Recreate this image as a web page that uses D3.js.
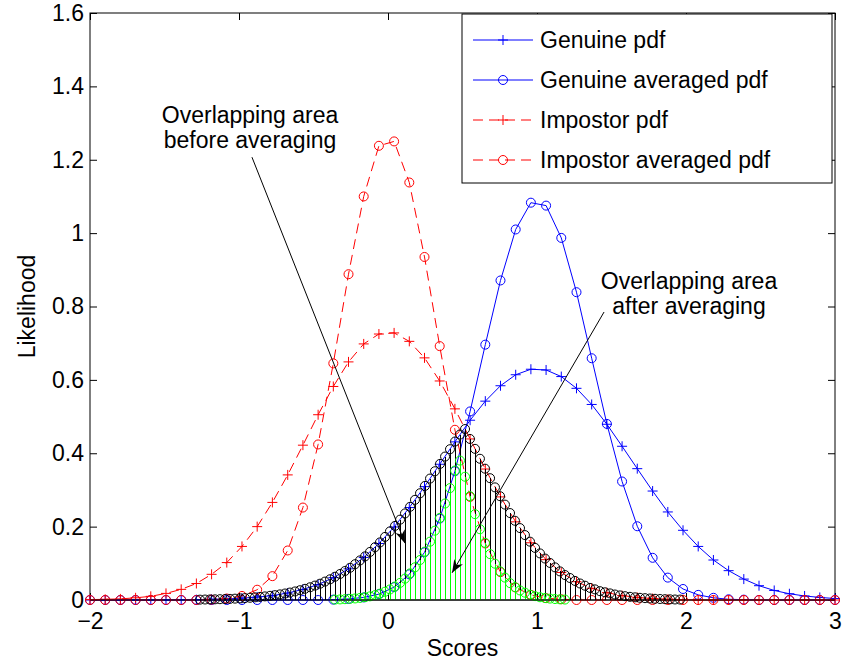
<!DOCTYPE html>
<html>
<head>
	<meta charset="utf-8">
	<script src="https://cdnjs.cloudflare.com/ajax/libs/d3/7.8.5/d3.min.js" charset="utf-8"></script>
	<style>
		body {
		  margin: 0;
		  background: #fff;
		}
		text {
		  font-family: 'Liberation Sans', Arial, Helvetica, sans-serif;
		  font-size: 23px;
		  fill: #000;
		}
	</style>
</head>
<body>
<div id="chart"></div>
<script>

///////////////////////////////////////////////////
///////////////////// Data ////////////////////////
///////////////////////////////////////////////////

//Coarse score grid used by the four pdf curves
var scores = [-2.000,-1.898,-1.796,-1.694,-1.592,-1.490,-1.388,-1.286,-1.184,-1.082,
	-0.980,-0.878,-0.776,-0.673,-0.571,-0.469,-0.367,-0.265,-0.163,-0.061,
	0.041,0.143,0.245,0.347,0.449,0.551,0.653,0.755,0.857,0.959,
	1.061,1.163,1.265,1.367,1.469,1.571,1.673,1.776,1.878,1.980,
	2.082,2.184,2.286,2.388,2.490,2.592,2.694,2.796,2.898,3.000];

var genuinePdf = [0,0,0,0,0,0,0.001,0.001,0.002,0.003,
	0.005,0.008,0.012,0.019,0.029,0.042,0.061,0.085,0.116,0.154,
	0.199,0.252,0.309,0.370,0.431,0.490,0.542,0.584,0.614,0.629,
	0.627,0.609,0.577,0.533,0.479,0.419,0.358,0.297,0.240,0.190,
	0.146,0.109,0.080,0.057,0.039,0.026,0.017,0.011,0.007,0.004];

var genuineAvgPdf = [0,0,0,0,0,0,0,0,0,0,
	0,0,0,0,0,0,0.001,0.003,0.007,0.016,
	0.035,0.070,0.130,0.222,0.351,0.514,0.696,0.871,1.010,1.083,
	1.075,0.987,0.839,0.659,0.480,0.323,0.201,0.115,0.061,0.030,
	0.014,0.006,0.002,0.001,0,0,0,0,0,0];

var impostorPdf = [0.001,0.002,0.003,0.006,0.010,0.018,0.029,0.045,0.070,0.102,
	0.146,0.200,0.266,0.341,0.422,0.505,0.582,0.649,0.698,0.725,
	0.728,0.705,0.660,0.597,0.521,0.439,0.357,0.281,0.213,0.156,
	0.110,0.075,0.050,0.032,0.020,0.012,0.007,0.004,0.002,0.001,
	0,0,0,0,0,0,0,0,0,0];

var impostorAvgPdf = [0,0,0,0,0,0,0,0,0.001,0.004,
	0.011,0.028,0.065,0.135,0.252,0.424,0.645,0.888,1.100,1.238,
	1.250,1.138,0.935,0.692,0.464,0.281,0.154,0.076,0.034,0.014,
	0.005,0.002,0,0,0,0,0,0,0,0,
	0,0,0,0,0,0,0,0,0,0];

//Fine score grid for the overlap (before averaging) stems
var overlapScores = [-1.262,-1.228,-1.195,-1.161,-1.128,-1.094,-1.060,-1.027,-0.993,-0.960,
	-0.926,-0.893,-0.859,-0.826,-0.792,-0.758,-0.725,-0.691,-0.658,-0.624,
	-0.591,-0.557,-0.523,-0.490,-0.456,-0.423,-0.389,-0.356,-0.322,-0.289,
	-0.255,-0.221,-0.188,-0.154,-0.121,-0.087,-0.054,-0.020,0.013,0.047,
	0.081,0.114,0.148,0.181,0.215,0.248,0.282,0.315,0.349,0.383,
	0.416,0.450,0.483,0.517,0.550,0.584,0.617,0.651,0.685,0.718,
	0.752,0.785,0.819,0.852,0.886,0.919,0.953,0.987,1.020,1.054,
	1.087,1.121,1.154,1.188,1.221,1.255,1.289,1.322,1.356,1.389,
	1.423,1.456,1.490,1.523,1.557,1.591,1.624,1.658,1.691,1.725,
	1.758,1.792,1.826,1.859,1.893,1.926,1.960];

var overlapBefore = [0.001,0.0013,0.0015,0.0018,0.0022,0.0026,0.0031,0.0037,0.0044,0.0052,
	0.0061,0.0072,0.0084,0.0098,0.0114,0.0132,0.0153,0.0177,0.0203,0.0233,
	0.0267,0.0305,0.0347,0.0393,0.0445,0.0502,0.0564,0.0634,0.0709,0.0790,
	0.0878,0.0976,0.108,0.119,0.131,0.144,0.157,0.172,0.187,0.202,
	0.219,0.236,0.254,0.273,0.291,0.311,0.331,0.351,0.371,0.391,
	0.411,0.432,0.451,0.466,0.439,0.412,0.385,0.358,0.332,0.307,
	0.283,0.260,0.237,0.216,0.196,0.177,0.159,0.142,0.127,0.113,
	0.101,0.089,0.078,0.068,0.060,0.052,0.045,0.039,0.033,0.029,
	0.024,0.021,0.018,0.015,0.0125,0.0104,0.0087,0.0073,0.0060,0.0050,
	0.0041,0.0033,0.0027,0.0022,0.0018,0.0014,0.0012];

//Overlap after averaging (green stems)
var overlapAfterScores = [-0.356,-0.322,-0.289,-0.255,-0.221,-0.188,-0.154,-0.121,-0.087,-0.054,
	-0.020,0.013,0.047,0.081,0.114,0.148,0.181,0.215,0.248,0.282,
	0.315,0.349,0.383,0.416,0.450,0.483,0.517,0.550,0.584,0.617,
	0.651,0.685,0.718,0.752,0.785,0.819,0.852,0.886,0.919,0.953,
	0.987,1.020,1.054,1.087,1.121,1.154,1.188];

var overlapAfter = [0.0011,0.0016,0.0022,0.0031,0.0042,0.0056,0.0076,0.0100,0.0133,0.0173,
	0.0225,0.0288,0.0368,0.0466,0.0582,0.0726,0.0892,0.109,0.132,0.159,
	0.189,0.224,0.263,0.305,0.353,0.380,0.336,0.283,0.234,0.193,
	0.156,0.125,0.099,0.078,0.061,0.046,0.035,0.026,0.020,0.0144,
	0.0105,0.0075,0.0053,0.0038,0.0026,0.0018,0.0012];

//Ticks
var xTicks = [-2, -1, 0, 1, 2, 3];
var xTickLabels = ["\u22122", "\u22121", "0", "1", "2", "3"];
var yTicks = [0, 0.2, 0.4, 0.6, 0.8, 1, 1.2, 1.4, 1.6];
var yTickLabels = ["0", "0.2", "0.4", "0.6", "0.8", "1", "1.2", "1.4", "1.6"];

var seriesNames = ["Genuine pdf", "Genuine averaged pdf", "Impostor pdf", "Impostor averaged pdf"];

///////////////////////////////////////////////////
//////////////// Set the Scales ///////////////////
///////////////////////////////////////////////////

var width = 842,
    height = 666,
    margin = {top: 13, right: 7, bottom: 66, left: 90};

var x = d3.scaleLinear()
	.domain([-2, 3])
	.range([margin.left, width - margin.right]);

var y = d3.scaleLinear()
	.domain([0, 1.6])
	.range([height - margin.bottom, margin.top]);

var svg = d3.select("#chart")
	.append("svg")
	.attr("width", width)
	.attr("height", height);

svg.append("rect")
	.attr("width", width)
	.attr("height", height)
	.style("fill", "#fff");

///////////////////////////////////////////////////
///////////////////// Axes ////////////////////////
///////////////////////////////////////////////////

var tick = 7;

function styleAxis(g) {
	g.select(".domain").remove();
	g.selectAll("line").attr("stroke", "#000");
	g.selectAll("text")
		.attr("font-size", null)
		.style("font-size", "23px")
		.style("font-family", "'Liberation Sans', Arial, sans-serif");
}

svg.append("g")
	.attr("transform", "translate(0," + y(0) + ")")
	.call(d3.axisBottom(x).tickValues(xTicks)
		.tickFormat(function(d, i) { return xTickLabels[i]; })
		.tickSizeInner(-tick).tickSizeOuter(0).tickPadding(13))
	.call(styleAxis);

svg.append("g")
	.attr("transform", "translate(0," + y(1.6) + ")")
	.call(d3.axisTop(x).tickValues(xTicks).tickFormat("")
		.tickSizeInner(-tick).tickSizeOuter(0))
	.call(styleAxis);

svg.append("g")
	.attr("transform", "translate(" + x(-2) + ",0)")
	.call(d3.axisLeft(y).tickValues(yTicks)
		.tickFormat(function(d, i) { return yTickLabels[i]; })
		.tickSizeInner(-tick).tickSizeOuter(0).tickPadding(6))
	.call(styleAxis);

svg.append("g")
	.attr("transform", "translate(" + x(3) + ",0)")
	.call(d3.axisRight(y).tickValues(yTicks).tickFormat("")
		.tickSizeInner(-tick).tickSizeOuter(0))
	.call(styleAxis);

//Axes box
svg.append("rect")
	.attr("x", x(-2))
	.attr("y", y(1.6))
	.attr("width", x(3) - x(-2))
	.attr("height", y(0) - y(1.6))
	.style("fill", "none")
	.style("stroke", "#000")
	.style("stroke-width", 1);

//Axis titles
svg.append("text")
	.attr("x", (x(-2) + x(3)) / 2)
	.attr("y", 656)
	.style("text-anchor", "middle")
	.text("Scores");

svg.append("text")
	.attr("transform", "translate(35," + (y(0) + y(1.6)) / 2 + ") rotate(-90)")
	.style("text-anchor", "middle")
	.text("Likelihood");

///////////////////////////////////////////////////
//////////////////// Markers //////////////////////
///////////////////////////////////////////////////

var plusPath = "M-5,0H5M0,-5V5";

function drawMarker(g, type, color) {
	if (type === "o") {
		g.append("circle")
			.attr("r", 4.5)
			.style("fill", "none")
			.style("stroke", color)
			.style("stroke-width", 1);
	} else {
		g.append("path")
			.attr("d", plusPath)
			.style("fill", "none")
			.style("stroke", color)
			.style("stroke-width", 1);
	}
}

///////////////////////////////////////////////////
///////////////////// Curves //////////////////////
///////////////////////////////////////////////////

var curves = [
	{name: seriesNames[0], values: genuinePdf, color: "#0000ff", dash: null, marker: "+"},
	{name: seriesNames[1], values: genuineAvgPdf, color: "#0000ff", dash: null, marker: "o"},
	{name: seriesNames[2], values: impostorPdf, color: "#ff0000", dash: "10,6", marker: "+"},
	{name: seriesNames[3], values: impostorAvgPdf, color: "#ff0000", dash: "10,6", marker: "o"}
];

var line = d3.line()
	.x(function(d) { return x(d[0]); })
	.y(function(d) { return y(d[1]); });

curves.forEach(function(c) {
	var pts = scores.map(function(s, i) { return [s, c.values[i]]; });

	svg.append("path")
		.datum(pts)
		.attr("d", line)
		.style("fill", "none")
		.style("stroke", c.color)
		.style("stroke-width", 1)
		.style("stroke-dasharray", c.dash);

	svg.selectAll(null)
		.data(pts)
	   .enter().append("g")
		.attr("transform", function(d) { return "translate(" + x(d[0]) + "," + y(d[1]) + ")"; })
		.each(function() { drawMarker(d3.select(this), c.marker, c.color); });
});

///////////////////////////////////////////////////
////////////////////// Stems //////////////////////
///////////////////////////////////////////////////

function drawStems(xs, ys, color) {
	var pts = xs.map(function(s, i) { return [s, ys[i]]; });

	svg.selectAll(null)
		.data(pts)
	   .enter().append("line")
		.attr("x1", function(d) { return Math.round(x(d[0])) + 0.5; })
		.attr("x2", function(d) { return Math.round(x(d[0])) + 0.5; })
		.attr("y1", y(0))
		.attr("y2", function(d) { return y(d[1]); })
		.style("stroke", color)
		.style("stroke-width", 1)
		.style("shape-rendering", "crispEdges");

	svg.selectAll(null)
		.data(pts)
	   .enter().append("g")
		.attr("transform", function(d) { return "translate(" + x(d[0]) + "," + y(d[1]) + ")"; })
		.each(function() { drawMarker(d3.select(this), "o", color); });
}

drawStems(overlapScores, overlapBefore, "#000");
drawStems(overlapAfterScores, overlapAfter, "#00ff00");

//Stem baseline
svg.append("line")
	.attr("x1", x(-2)).attr("x2", x(3))
	.attr("y1", y(0)).attr("y2", y(0))
	.style("stroke", "#000");

///////////////////////////////////////////////////
/////////////////// Annotations ///////////////////
///////////////////////////////////////////////////

svg.append("defs")
	.append("marker")
	.attr("id", "arrowHead")
	.attr("viewBox", "-14 -6 16 12")
	.attr("refX", 0)
	.attr("refY", 0)
	.attr("markerWidth", 16)
	.attr("markerHeight", 12)
	.attr("markerUnits", "userSpaceOnUse")
	.attr("orient", "auto")
	.append("path")
	.attr("d", "M0,0L-13,-5L-9,0L-13,5Z")
	.style("fill", "#000");

var annotations = [
	{lines: ["Overlapping area", "before averaging"], tx: -0.926, ty: 1.300,
	 from: [-0.913, 1.207], to: [0.114, 0.155]},
	{lines: ["Overlapping area", "after averaging"], tx: 2.020, ty: 0.847,
	 from: [1.450, 0.785], to: [0.430, 0.074]}
];

annotations.forEach(function(a) {
	svg.append("line")
		.attr("x1", x(a.from[0])).attr("y1", y(a.from[1]))
		.attr("x2", x(a.to[0])).attr("y2", y(a.to[1]))
		.style("stroke", "#000")
		.style("stroke-width", 1)
		.attr("marker-end", "url(#arrowHead)");

	svg.selectAll(null)
		.data(a.lines)
	   .enter().append("text")
		.attr("x", x(a.tx))
		.attr("y", function(d, i) { return y(a.ty) + i * 25; })
		.style("text-anchor", "middle")
		.text(function(d) { return d; });
});

///////////////////////////////////////////////////
///////////////////// Legend //////////////////////
///////////////////////////////////////////////////

var legend = svg.append("g");

legend.append("rect")
	.attr("x", 462)
	.attr("y", 14)
	.attr("width", 370)
	.attr("height", 169)
	.style("fill", "#fff")
	.style("stroke", "#000")
	.style("stroke-width", 1);

var legendRow = legend.selectAll(".legendRow")
	.data(curves)
   .enter().append("g")
	.attr("class", "legendRow")
	.attr("transform", function(d, i) { return "translate(473," + (40 + i * 40) + ")"; });

legendRow.append("line")
	.attr("x1", 0).attr("x2", 60)
	.style("stroke", function(d) { return d.color; })
	.style("stroke-width", 1)
	.style("stroke-dasharray", function(d) { return d.dash; });

legendRow.append("g")
	.attr("transform", "translate(30,0)")
	.each(function(d) { drawMarker(d3.select(this), d.marker, d.color); });

legendRow.append("text")
	.attr("x", 67)
	.attr("dy", "0.35em")
	.text(function(d) { return d.name; });

</script>
</body>
</html>
